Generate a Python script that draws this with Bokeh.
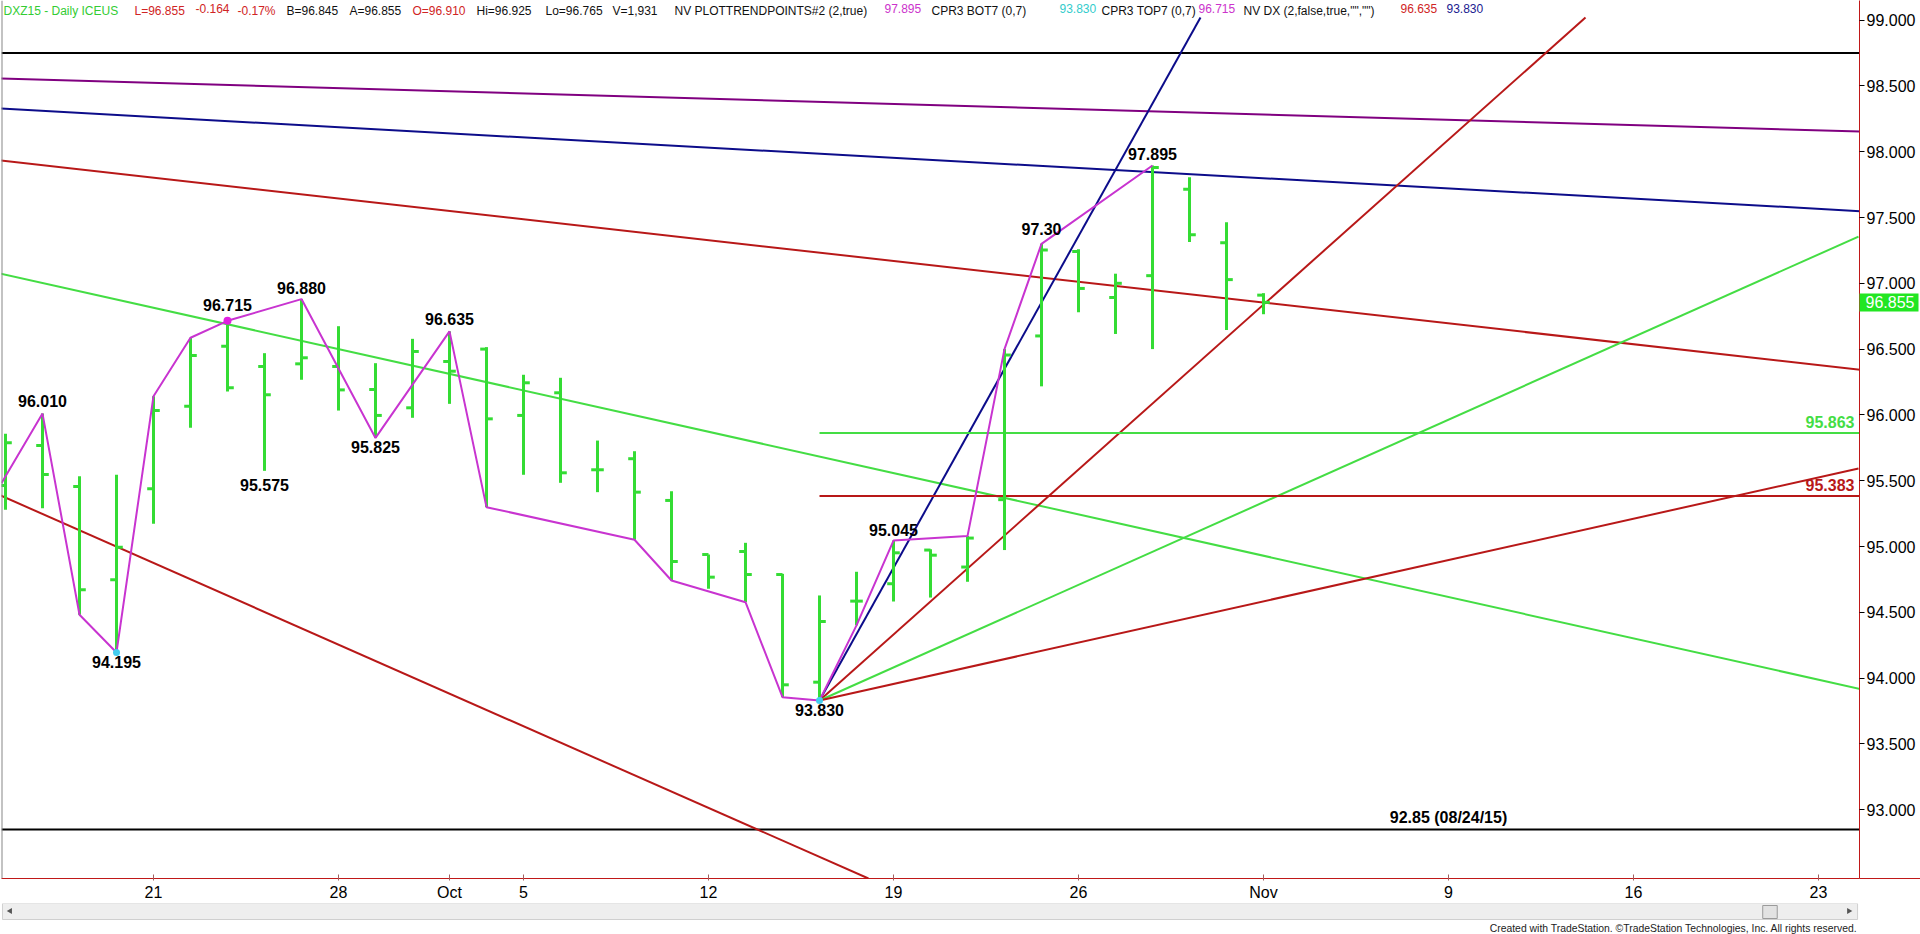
import numpy as np
from bokeh.plotting import figure
from bokeh.models import (Range1d, Span, Slope, Label, FixedTicker,
                          PrintfTickFormatter, ColumnDataSource)
from bokeh.layouts import column
from bokeh.core.properties import value
from bokeh.embed import file_html
from bokeh.resources import INLINE

# ---------------- data ----------------
# trading-day index: 0 = Mon 21 Sep 2015
day_index = list(range(-4, 31))
bar_open = [95.464, 95.767, 95.456, 94.747, 95.438, 96.066, 96.522, 96.368, 96.388, 96.368,
            96.193, 96.054, 96.406, 96.500, 95.996, 96.168, 95.583, 95.667, 95.350, 94.939,
            94.962, 94.787, 93.969, 94.585, 94.717, 94.973, 94.844, 95.356, 96.600, 97.241,
            96.892, 97.058, 97.714, 97.308, 96.910]
bar_high = [95.856, 96.010, 95.534, 95.545, 96.142, 96.586, 96.715, 96.469, 96.880, 96.674,
            96.393, 96.578, 96.635, 96.515, 96.305, 96.282, 95.805, 95.724, 95.420, 94.939,
            95.028, 94.792, 94.628, 94.808, 95.045, 94.979, 95.079, 96.500, 97.300, 97.259,
            97.073, 97.895, 97.805, 97.464, 96.925]
bar_low = [95.279, 95.291, 94.481, 94.195, 95.172, 95.902, 96.178, 95.575, 96.267, 96.033,
           95.825, 95.978, 96.084, 95.299, 95.545, 95.484, 95.413, 95.051, 94.742, 94.679,
           94.577, 93.855, 93.830, 94.401, 94.582, 94.612, 94.732, 94.973, 96.217, 96.780,
           96.615, 96.500, 97.314, 96.645, 96.765]
bar_close = [95.788, 95.547, 94.671, 94.995, 96.033, 96.451, 96.206, 96.153, 96.434, 96.190,
             95.996, 96.482, 96.332, 95.970, 96.244, 95.560, 95.583, 95.413, 94.886, 94.767,
             94.787, 93.949, 94.430, 94.585, 94.952, 94.934, 95.064, 96.455, 97.253, 96.961,
             97.000, 97.880, 97.368, 97.028, 96.855]

date_tick_index = [0, 5, 8, 10, 15, 20, 25, 30, 35, 40, 45]
date_tick_labels = ["21", "28", "Oct", "5", "12", "19", "26", "Nov", "9", "16", "23"]
price_ticks = [93.0, 93.5, 94.0, 94.5, 95.0, 95.5, 96.0, 96.5, 97.0, 97.5, 98.0, 98.5, 99.0]

# swing (trend points) polyline
swing_index = [-4.11, -3, -2, -1, 0, 1, 2, 4, 6, 8, 9, 13, 14, 16, 17, 18, 19, 20, 22, 23, 24, 27]
swing_price = [95.48, 96.010, 94.481, 94.195, 96.142, 96.586, 96.715, 96.880, 95.825, 96.635,
               95.299, 95.051, 94.742, 94.577, 93.855, 93.830, 94.401, 95.045, 95.079, 96.500,
               97.300, 97.895]

pivot_index = [-3, -1, 2, 4, 3, 6, 8, 20, 18, 24, 27]
pivot_price = [96.010, 94.195, 96.715, 96.880, 95.575, 95.825, 96.635, 95.045, 93.830, 97.30, 97.895]
pivot_text = ["96.010", "94.195", "96.715", "96.880", "95.575", "95.825", "96.635",
              "95.045", "93.830", "97.30", "97.895"]

# long trend lines: two anchor points each
trend_x0 = [-4.135, -4.135, -4.135, -4.135, -4.135]
trend_p0 = [98.556, 98.328, 97.933, 97.074, 95.388]
trend_x1 = [46.081, 46.081, 46.081, 46.081, 8.30]
trend_p1 = [98.153, 97.549, 96.345, 93.920, 93.845]

# fan from the 93.830 low
fan_pivot_index = 18
fan_pivot_price = 93.830
fan_end_index = [28.297, 38.703, 46.081, 46.081]
fan_end_price = [99.02, 99.02, 97.355, 95.593]

level_price = [95.863, 95.383]
level_text = ["95.863", "95.383"]
level_start_index = 18

black_levels = [98.75, 92.85]
old_low_price = 92.85
old_low_index = 35
old_low_text = "92.85 (08/24/15)"

last_price = 96.855
mark_magenta = (2, 96.715)
mark_cyan_index = [-1, 18]
mark_cyan_price = [94.195, 93.830]

legend_text = ["DXZ15 - Daily  ICEUS", "L=96.855", "-0.164", "-0.17%", "B=96.845", "A=96.855",
               "O=96.910", "Hi=96.925", "Lo=96.765", "V=1,931", "NV", "PLOTTRENDPOINTS#2 (2,true)",
               "97.895", "CPR3 BOT7 (0,7)", "93.830", "CPR3 TOP7 (0,7)", "96.715",
               'NV DX (2,false,true,"","")', "96.635", "93.830"]

# ---------------- styles / layout ----------------
BAR_GREEN = "#34DC34"
LINE_GREEN = "#44DD44"
RED = "#B81818"
NAVY = "#0C0C8A"
PURPLE = "#800080"
MAGENTA = "#C834D0"
AXIS_RED = "#C01818"
T_GREEN, T_RED, T_BLK, T_MAG, T_CYAN, T_NAVY = "#33CC33", "#D02424", "#111111", "#CC33CC", "#33CCCC", "#202090"
legend_color = [T_GREEN, T_RED, T_RED, T_RED, T_BLK, T_BLK, T_RED, T_BLK, T_BLK, T_BLK, T_BLK, T_BLK,
                T_MAG, T_BLK, T_CYAN, T_BLK, T_MAG, T_BLK, T_RED, T_NAVY]
legend_px = [3, 134, 195, 237, 286, 349, 412, 476, 545, 612, 674, 694,
             884, 931, 1059, 1101, 1198, 1243, 1400, 1446]
pivot_dy = [-12.5, 10, -16, -11, 14, 9, -12, -11, 10, -15, -12]
trend_colors = [PURPLE, NAVY, RED, LINE_GREEN, RED]
fan_colors = [NAVY, RED, LINE_GREEN, RED]
level_colors = [LINE_GREEN, RED]
FONT = "Liberation Sans"

FRAME_L, FRAME_W, FRAME_H, RIGHT_W, BOTTOM_H = 1, 1858, 878, 61, 25
PX_PER_DAY, PX_PER_UNIT = 37, 131.6
X_START, X_END = (1 - 153) / PX_PER_DAY, (1859 - 153) / PX_PER_DAY
Y_BOTTOM, Y_TOP = 99 - (878 - 19.6) / PX_PER_UNIT, 99 + 19.6 / PX_PER_UNIT
TICK = 0.17
BOX_W, BOX_H = 59, 18

p = figure(x_range=Range1d(X_START, X_END), y_range=Range1d(Y_BOTTOM, Y_TOP),
           frame_width=FRAME_W, frame_height=FRAME_H,
           min_border_left=FRAME_L, min_border_right=RIGHT_W, min_border_top=0,
           min_border_bottom=BOTTOM_H, y_axis_location="right",
           output_backend="svg", toolbar_location=None,
           background_fill_color="white", border_fill_color="white", outline_line_color=None)
p.grid.visible = False

ya = p.yaxis[0]
ya.ticker = FixedTicker(ticks=price_ticks)
ya.formatter = PrintfTickFormatter(format="%.3f")
ya.axis_line_color = AXIS_RED
ya.major_tick_line_color = "black"
ya.major_tick_in = 0
ya.major_tick_out = 5
ya.minor_tick_line_color = None
ya.major_label_standoff = 2
ya.major_label_text_font = FONT
ya.major_label_text_font_size = "16px"
ya.major_label_text_color = "black"

xa = p.xaxis[0]
xa.ticker = FixedTicker(ticks=date_tick_index)
xa.major_label_overrides = {k: v for k, v in zip(date_tick_index, date_tick_labels)}
xa.axis_line_color = AXIS_RED
xa.major_tick_line_color = "#A06060"
xa.major_tick_in = 4
xa.major_tick_out = 2
xa.minor_tick_line_color = None
xa.major_label_standoff = 3
xa.major_label_text_font = FONT
xa.major_label_text_font_size = "16px"
xa.major_label_text_color = "black"

# frame borders
p.add_layout(Span(location=X_START, dimension="height", line_color="#888888", line_width=2))
p.segment(x0=[X_END], y0=[Y_BOTTOM], x1=[X_END + RIGHT_W / PX_PER_DAY], y1=[Y_BOTTOM],
          line_color=AXIS_RED, line_width=1, level="overlay")

for lv in black_levels:
    p.add_layout(Span(location=lv, dimension="width", line_color="black", line_width=2,
                      level="underlay"))

for x0, p0, x1, p1, col in zip(trend_x0, trend_p0, trend_x1, trend_p1, trend_colors):
    g = (p1 - p0) / (x1 - x0)
    p.add_layout(Slope(gradient=g, y_intercept=p0 - g * x0, line_color=col, line_width=2,
                       level="underlay"))

p.segment(x0=[fan_pivot_index] * len(fan_end_index), y0=[fan_pivot_price] * len(fan_end_index),
          x1=fan_end_index, y1=fan_end_price, line_color=fan_colors, line_width=2)

p.segment(x0=[level_start_index] * 2, y0=level_price, x1=[X_END] * 2, y1=level_price,
          line_color=level_colors, line_width=2)
p.text(x=[X_END] * 2, y=level_price, text=level_text, text_color=level_colors,
       text_font=value(FONT), text_font_style="bold", text_font_size="16px",
       text_align="right", text_baseline="middle", x_offset=-5, y_offset=-11)

xi = np.array(day_index, dtype=float)
src = ColumnDataSource(dict(x=xi, xl=xi - TICK, xr=xi + TICK, o=bar_open, h=bar_high,
                            l=bar_low, c=bar_close))
p.segment(x0="x", y0="l", x1="x", y1="h", source=src, line_color=BAR_GREEN, line_width=3)
p.segment(x0="xl", y0="o", x1="x", y1="o", source=src, line_color=BAR_GREEN, line_width=3)
p.segment(x0="x", y0="c", x1="xr", y1="c", source=src, line_color=BAR_GREEN, line_width=3)

p.line(swing_index, swing_price, line_color=MAGENTA, line_width=2)
p.scatter([mark_magenta[0]], [mark_magenta[1]], size=8, fill_color="#E020E0", line_color=None)
p.scatter(mark_cyan_index, mark_cyan_price, size=7, fill_color="#44CCEE", line_color=None)

p.text(x=pivot_index, y=pivot_price, text=pivot_text, y_offset=pivot_dy,
       text_font=value(FONT), text_font_style="bold", text_font_size="16px",
       text_color="black", text_align="center", text_baseline="middle")
p.text(x=[old_low_index], y=[old_low_price], text=[old_low_text], y_offset=-12,
       text_font=value(FONT), text_font_style="bold", text_font_size="16px",
       text_color="black", text_align="center", text_baseline="middle")

# last-price box on the price axis (overlay level so it is not clipped to the frame)
p.quad(left=[X_END], right=[X_END + BOX_W / PX_PER_DAY],
       bottom=[last_price - BOX_H / 2 / PX_PER_UNIT], top=[last_price + BOX_H / 2 / PX_PER_UNIT],
       fill_color="#22E622", line_color=None, level="overlay")
p.text(x=[X_END], y=[last_price], text=[f"{last_price:.3f}"], x_offset=6, level="overlay",
       text_font=value(FONT), text_font_size="16px", text_color="white",
       text_align="left", text_baseline="middle")

# status line
for t, col, rx in zip(legend_text, legend_color, legend_px):
    p.add_layout(Label(x=rx - FRAME_L, y=FRAME_H - 3, x_units="screen", y_units="screen",
                       text=t, text_color=col, text_font=FONT,
                       text_font_size="12px", text_align="left", text_baseline="top"))

# ---------------- scrollbar + footer strip ----------------
Q_H = 934 - (FRAME_H + BOTTOM_H)
q = figure(width=1920, height=Q_H, x_range=Range1d(0, 1920), y_range=Range1d(Q_H, 0),
           min_border=0, x_axis_location=None, y_axis_location=None,
           output_backend="svg", toolbar_location=None, outline_line_color=None,
           background_fill_color="white", border_fill_color="white")
q.grid.visible = False
q.quad(left=[1], right=[1918], top=[0], bottom=[16], fill_color="#EEEEEE", line_color="#CFCFCF")
q.quad(left=[1820], right=[1835], top=[2], bottom=[15], fill_color="#E2E2E2", line_color="#9A9A9A")
q.scatter(x=[9, 1909], y=[7.5, 7.5], marker="triangle", angle=[np.pi / 2, -np.pi / 2], size=6,
          fill_color="#555555", line_color=None)
q.text(x=[1918], y=[25], text=["Created with TradeStation. \u00a9TradeStation Technologies, Inc. All rights reserved."],
       text_font=value(FONT), text_font_size="10.4px", text_color="#222222",
       text_align="right", text_baseline="middle")

layout = column(p, q, spacing=0)
open("out.html", "w").write(file_html(layout, INLINE))
